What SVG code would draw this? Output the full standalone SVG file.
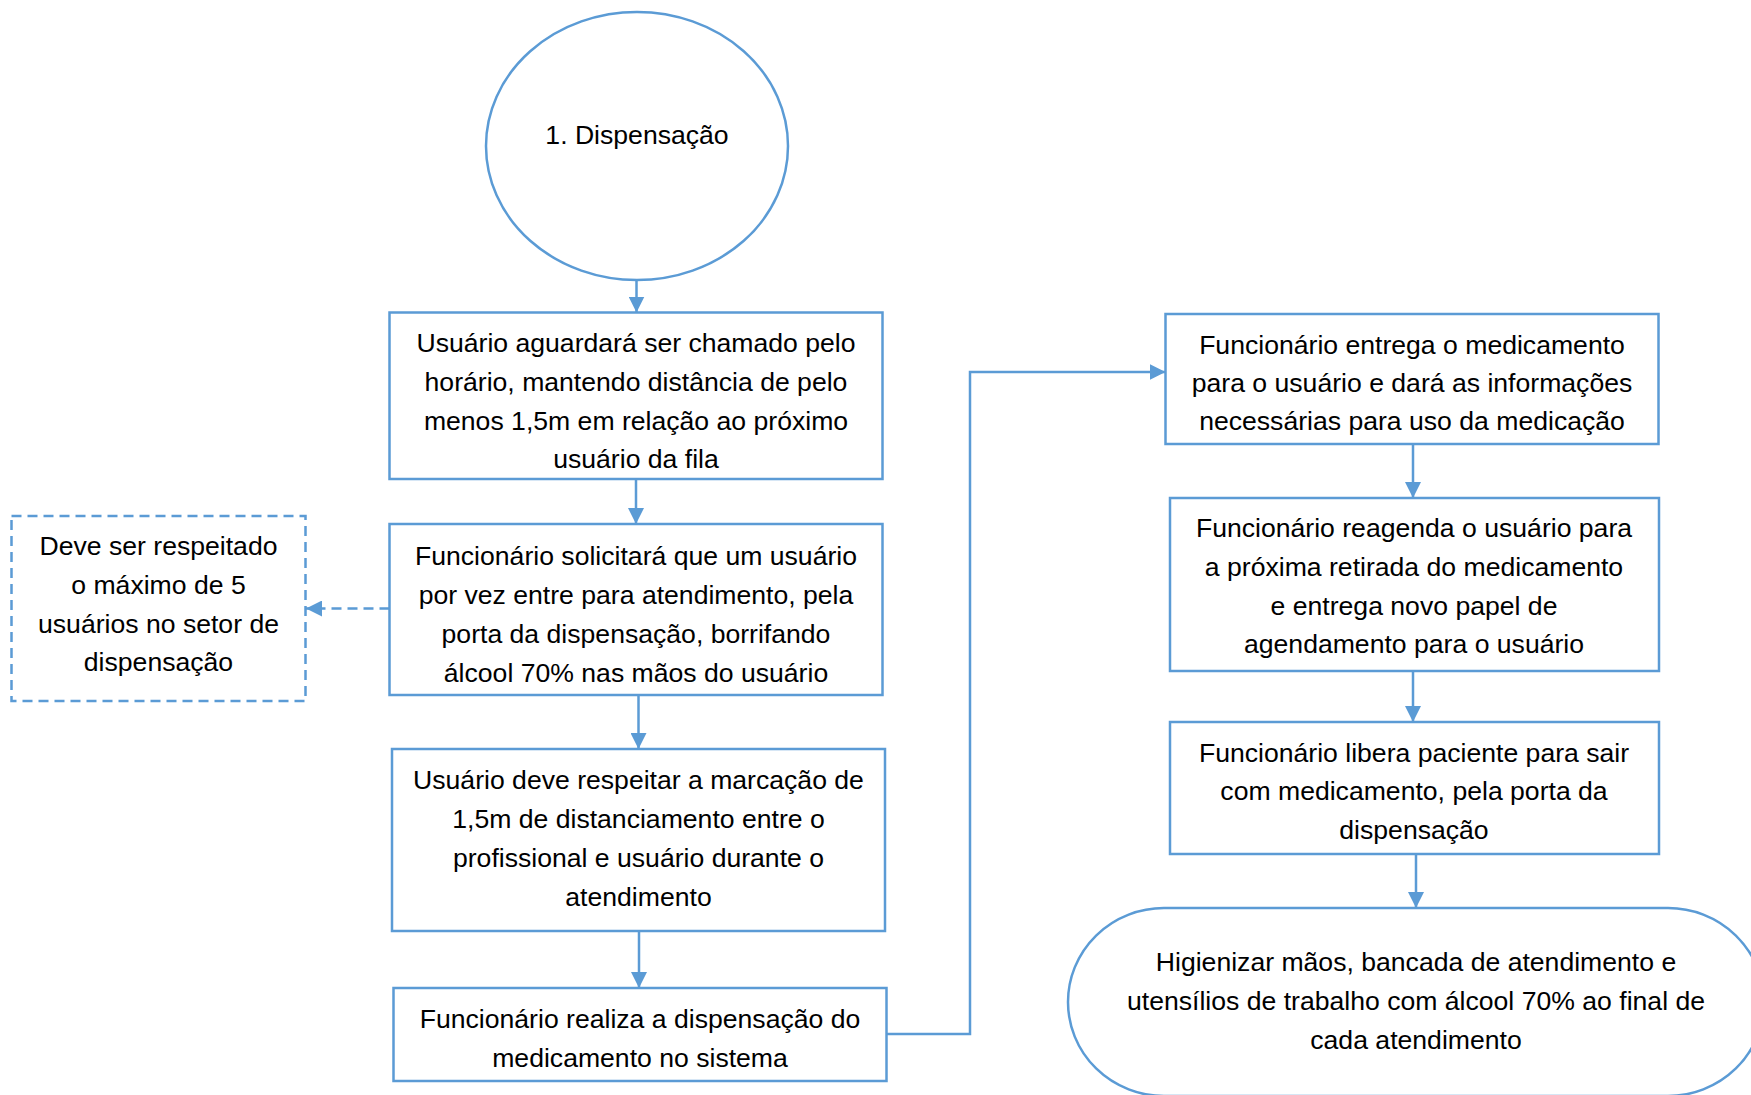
<svg xmlns="http://www.w3.org/2000/svg" width="1751" height="1095" viewBox="0 0 1751 1095">
  <style>
    .shape { fill: #ffffff; stroke: #5b9bd5; stroke-width: 2.5; }
    .dashed { fill: #ffffff; stroke: #5b9bd5; stroke-width: 2.5; stroke-dasharray: 10 6; }
    .link { fill: none; stroke: #5b9bd5; stroke-width: 2.5; marker-end: url(#arrow); }
    .link-dash { fill: none; stroke: #5b9bd5; stroke-width: 2.5; stroke-dasharray: 10 6; marker-end: url(#arrow); }
    text { font-family: "Liberation Sans", Arial, sans-serif; font-size: 26.6px; fill: #000000; text-anchor: middle; }
  </style>
  <defs>
    <marker id="arrow" markerUnits="userSpaceOnUse" markerWidth="16" markerHeight="16" refX="16" refY="8" orient="auto">
      <path d="M0,0 L16,8 L0,16 z" fill="#5b9bd5"/>
    </marker>
  </defs>
  <rect width="1751" height="1095" fill="#ffffff"/>

  <!-- connectors -->
  <g id="connectors">
    <line class="link" x1="636.5" y1="280" x2="636.5" y2="312.5"/>
    <line class="link" x1="636" y1="479" x2="636" y2="524"/>
    <line class="link-dash" x1="389.5" y1="608.5" x2="306" y2="608.5"/>
    <line class="link" x1="638.5" y1="695" x2="638.5" y2="749"/>
    <line class="link" x1="639" y1="931" x2="639" y2="988"/>
    <path class="link" d="M886,1034 H970 V372 H1165.5"/>
    <line class="link" x1="1413" y1="444" x2="1413" y2="498"/>
    <line class="link" x1="1413" y1="671" x2="1413" y2="722"/>
    <line class="link" x1="1416" y1="854" x2="1416" y2="908"/>
  </g>

  <!-- start -->
  <g id="start">
    <ellipse class="shape" cx="637" cy="146" rx="151" ry="134"/>
    <text x="637" y="144">1. Dispensação</text>
  </g>

  <g id="wait">
    <rect class="shape" x="389.5" y="312.5" width="493" height="166.5"/>
    <text x="636" y="352">Usuário aguardará ser chamado pelo</text>
    <text x="636" y="391">horário, mantendo distância de pelo</text>
    <text x="636" y="430">menos 1,5m em relação ao próximo</text>
    <text x="636" y="468">usuário da fila</text>
  </g>

  <g id="call">
    <rect class="shape" x="389.5" y="524" width="493" height="171"/>
    <text x="636" y="565">Funcionário solicitará que um usuário</text>
    <text x="636" y="604">por vez entre para atendimento, pela</text>
    <text x="636" y="643">porta da dispensação, borrifando</text>
    <text x="636" y="682">álcool 70% nas mãos do usuário</text>
  </g>

  <g id="limit">
    <rect class="dashed" x="11.5" y="516" width="294" height="185"/>
    <text x="158.5" y="555">Deve ser respeitado</text>
    <text x="158.5" y="594">o máximo de 5</text>
    <text x="158.5" y="633">usuários no setor de</text>
    <text x="158.5" y="671">dispensação</text>
  </g>

  <g id="distance">
    <rect class="shape" x="392" y="749" width="493" height="182"/>
    <text x="638.5" y="789">Usuário deve respeitar a marcação de</text>
    <text x="638.5" y="828">1,5m de distanciamento entre o</text>
    <text x="638.5" y="867">profissional e usuário durante o</text>
    <text x="638.5" y="906">atendimento</text>
  </g>

  <g id="system">
    <rect class="shape" x="393.5" y="988" width="493" height="93"/>
    <text x="640" y="1028">Funcionário realiza a dispensação do</text>
    <text x="640" y="1067">medicamento no sistema</text>
  </g>

  <g id="deliver">
    <rect class="shape" x="1165.5" y="314" width="493" height="130"/>
    <text x="1412" y="354">Funcionário entrega o medicamento</text>
    <text x="1412" y="392">para o usuário e dará as informações</text>
    <text x="1412" y="430">necessárias para uso da medicação</text>
  </g>

  <g id="reschedule">
    <rect class="shape" x="1170" y="498" width="489" height="173"/>
    <text x="1414" y="537">Funcionário reagenda o usuário para</text>
    <text x="1414" y="576">a próxima retirada do medicamento</text>
    <text x="1414" y="615">e entrega novo papel de</text>
    <text x="1414" y="653">agendamento para o usuário</text>
  </g>

  <g id="release">
    <rect class="shape" x="1170" y="722" width="489" height="132"/>
    <text x="1414" y="762">Funcionário libera paciente para sair</text>
    <text x="1414" y="800">com medicamento, pela porta da</text>
    <text x="1414" y="839">dispensação</text>
  </g>

  <!-- end -->
  <g id="end">
    <rect class="shape" x="1068" y="908" width="696" height="188" rx="96" ry="94"/>
    <text x="1416" y="971">Higienizar mãos, bancada de atendimento e</text>
    <text x="1416" y="1010">utensílios de trabalho com álcool 70% ao final de</text>
    <text x="1416" y="1049">cada atendimento</text>
  </g>
</svg>
